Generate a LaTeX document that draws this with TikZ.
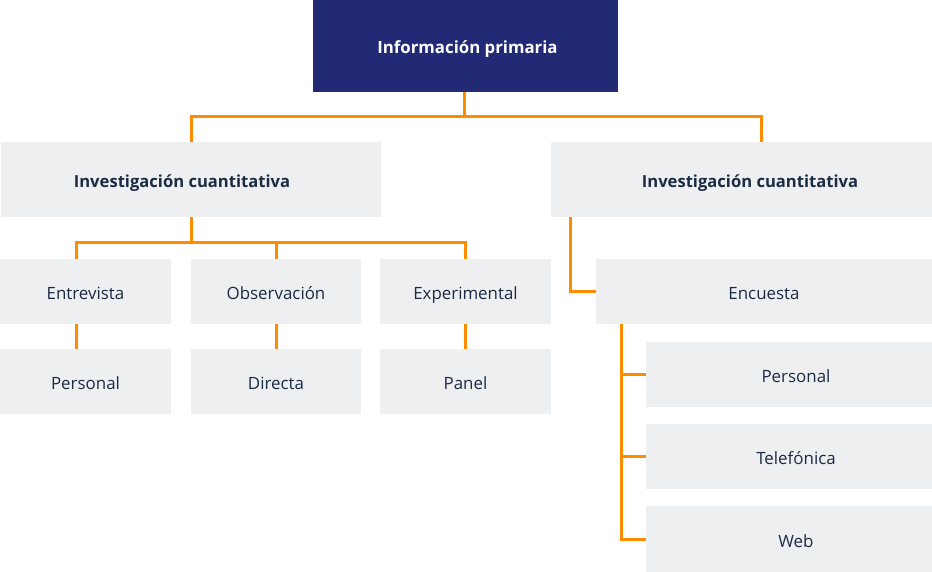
\documentclass[tikz,border=0pt]{standalone}
\usepackage{fontspec}
\setmainfont{Open Sans}
\usetikzlibrary{calc}
\definecolor{navy}{HTML}{222A75}
\definecolor{boxgray}{HTML}{EEEFF1}
\definecolor{conn}{HTML}{FF8C00}
\definecolor{txt}{HTML}{1B2B42}
\tikzset{
  box/.style={fill=boxgray, draw=none, inner sep=0pt, text=txt, text height=16pt, text depth=0pt, font=\fontsize{16.9}{20}\selectfont},
  topbox/.style={fill=navy, draw=none, inner sep=0pt, text=white, text height=16pt, text depth=0pt, font=\fontsize{16.8}{20}\selectfont\bfseries},
  l1box/.style={box, font=\fontsize{16.6}{20}\selectfont\bfseries},
  link/.style={draw=conn, line width=3pt},
}
\begin{document}
\begin{tikzpicture}[x=1pt,y=-1pt]
\useasboundingbox (0,0) rectangle (932,572);
\node[topbox, minimum width=305pt, minimum height=92pt] (top) at (465.5,46) {Información primaria\hspace*{-4pt}};
\node[l1box, minimum width=380pt, minimum height=75pt] (l1l) at (191,179.5) {Investigación cuantitativa\hspace*{18pt}};
\node[l1box, minimum width=381pt, minimum height=75pt] (l1r) at (741.5,179.5) {\hspace*{17pt}Investigación cuantitativa};
\node[box, minimum width=171pt, minimum height=65pt] (ent) at (85.5,291.5) {Entrevista};
\node[box, minimum width=170pt, minimum height=65pt] (obs) at (276,291.5) {Observación};
\node[box, minimum width=171pt, minimum height=65pt] (exp) at (465.5,291.5) {Experimental};
\node[box, minimum width=171pt, minimum height=65pt] (per) at (85.5,381.5) {Personal};
\node[box, minimum width=170pt, minimum height=65pt] (dir) at (276,381.5) {Directa};
\node[box, minimum width=171pt, minimum height=65pt] (pan) at (465.5,381.5) {Panel};
\node[box, minimum width=336pt, minimum height=65pt] (enc) at (764,291.5) {Encuesta};
\node[box, minimum width=286pt, minimum height=65pt] (sper) at (789,374.5) {\hspace*{14pt}Personal};
\node[box, minimum width=286pt, minimum height=65pt] (stel) at (789,456.5) {\hspace*{14pt}Telefónica};
\node[box, minimum width=286pt, minimum height=66pt] (sweb) at (789,539) {\hspace*{14pt}Web};
% connectors
\coordinate (j1) at (464,117);
\coordinate (j2) at (191,243);
\draw[link] (top.south -| j1) -- (j1);
\draw[link] (l1l.north) |- (j1) -| ($(l1r.north)+(19.5,0)$);
\draw[link] (l1l.south) -- (j2);
\draw[link] ($(ent.north)+(-9.5,0)$) |- (j2) -| (exp.north);
\draw[link] (obs.north) -- (obs.north |- j2);
\draw[link] ($(ent.south)+(-9.5,0)$) -- ($(per.north)+(-9.5,0)$);
\draw[link] (obs.south) -- (dir.north);
\draw[link] (exp.south) -- (pan.north);
\draw[link] ($(l1r.south west)+(20,0)$) |- (enc.west);
\draw[link] ($(enc.south west)+(26,0)$) |- (sper.west);
\draw[link] ($(enc.south west)+(26,0)$) |- (stel.west);
\draw[link] ($(enc.south west)+(26,0)$) |- (sweb.west);
\end{tikzpicture}
\end{document}
